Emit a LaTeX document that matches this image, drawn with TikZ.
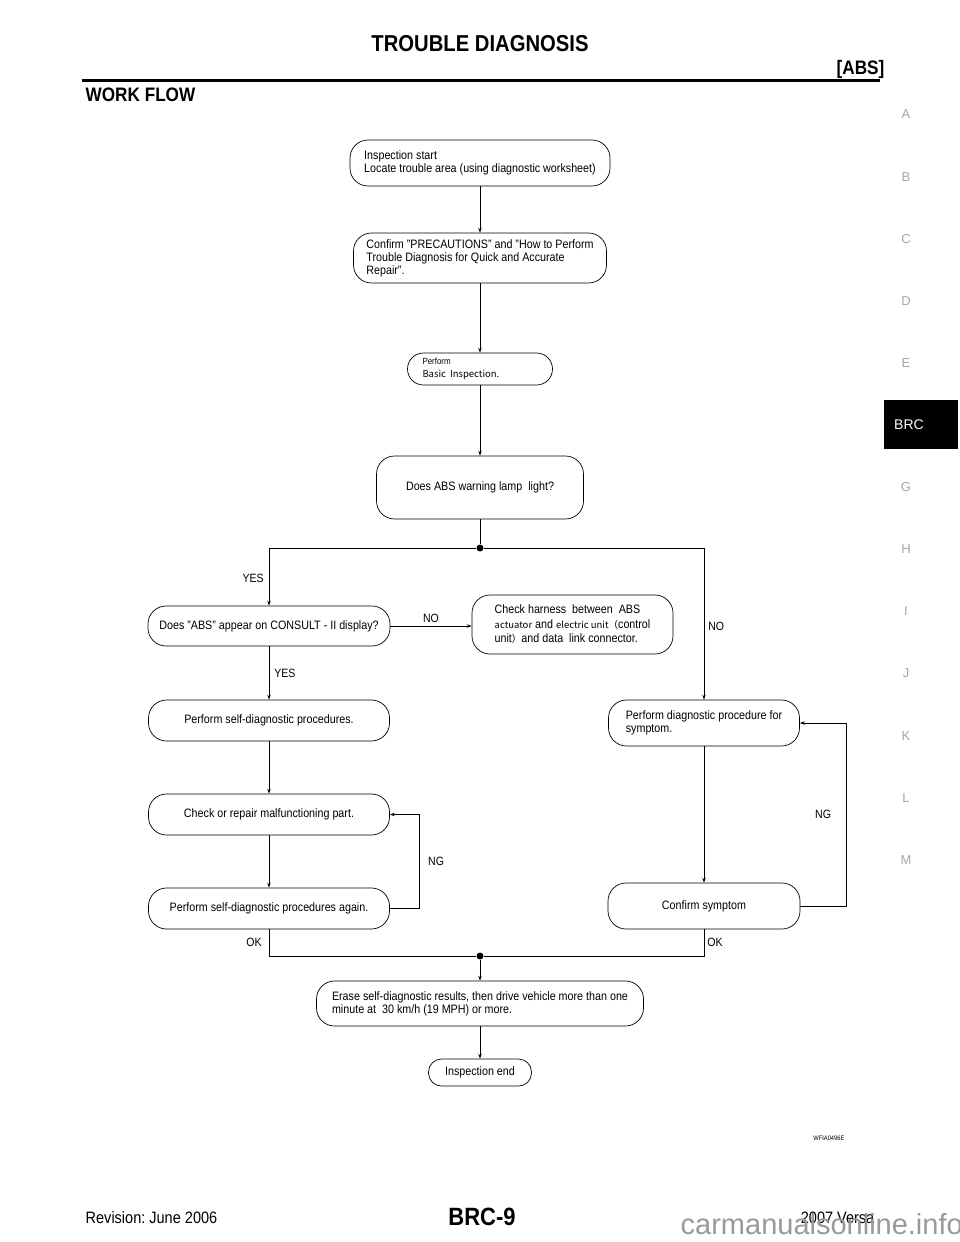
\documentclass[tikz,border=0pt]{standalone}
\usepackage{fontspec}
\setmainfont{Liberation Sans}[FakeStretch=0.88]
\newfontfamily\plainsans{Liberation Sans}
\newfontfamily\cjk{Noto Sans CJK JP}
\usetikzlibrary{arrows.meta}
\newcommand\jp[1]{{\cjk\fontsize{9.5}{14.5}\selectfont #1}}
\newcommand\dq{\symbol{34}}
\frenchspacing

\begin{document}
\begin{tikzpicture}[x=1pt,y=-1pt,line width=0.7pt,>={Stealth[length=5pt,width=3.5pt]},
  box/.style={draw,rounded corners=18pt,inner sep=0pt,align=left,font=\fontsize{12.2}{13}\selectfont},
  lbl/.style={inner sep=0pt,font=\fontsize{12}{13}\selectfont},
  tab/.style={text=black!35,font=\plainsans\fontsize{13}{15}\selectfont},
  dot/.style={circle,fill,inner sep=0pt,minimum size=7pt}]
\useasboundingbox (0,0) rectangle (960,1242);

\node[anchor=base,font=\bfseries\fontsize{23}{26}\selectfont]		(title)	at (480,51)	{TROUBLE DIAGNOSIS};
\node[anchor=base east,font=\bfseries\fontsize{19.5}{22}\selectfont]	(sect)	at (888,74)	{[ABS]};
\draw[line width=3pt] (82,80) -- (880,80);
\node[anchor=base west,font=\bfseries\fontsize{19.5}{22}\selectfont]	(work)	at (82,101)	{WORK FLOW};

\foreach \l/\y in {A/114,B/177,C/239,D/301,E/363,G/487,H/549,I/611,J/673,K/736,L/798,M/860}
  \node[tab] (tab_\l) at (906,\y) {\l};
\fill (884,400) rectangle (958,449);
\node[tab,text=white,font=\plainsans\fontsize{14}{16}\selectfont] (tab_BRC) at (909,425) {BRC};

\node[box,minimum width=260pt,minimum height=46pt]	(insp_start)	at (480,163)	{Inspection start\\Locate trouble area (using diagnostic worksheet)};
\node[box,minimum width=253pt,minimum height=50pt]	(precaution)	at (480,258)	{Confirm \dq PRECAUTIONS\dq{} and \dq How to Perform\\Trouble Diagnosis for Quick and Accurate\\Repair\dq.};
\node[box,rounded corners=16pt,minimum width=145pt,minimum height=32pt,text width=115pt]	(basic_insp)	at (480,369)	{{\fontsize{9}{13}\selectfont Perform}\\{\cjk\fontsize{9.5}{13}\selectfont Basic Inspection.}};
\node[box,minimum width=207pt,minimum height=63pt]	(lamp)		at (480,487.5)	{Does ABS warning lamp~ light?};
\node[dot]						(j_1)		at (480,548)	{};
\node[box,minimum width=242pt,minimum height=40pt]	(consult)	at (269,626)	{Does \dq ABS\dq{} appear on CONSULT - II display?};
\node[box,minimum width=201pt,minimum height=59pt,font=\fontsize{12.2}{14.5}\selectfont]	(harness)	at (572.5,624.5)	{Check harness~ between~ ABS\\\jp{actuator} and \jp{electric unit（}control\\unit\jp{）}and data~ link connector.};
\node[box,minimum width=241pt,minimum height=41pt]	(self_diag)	at (269,720.5)	{Perform self-diagnostic procedures.};
\node[box,minimum width=191pt,minimum height=46pt]	(diag_sym)	at (704,723)	{Perform diagnostic procedure for\\symptom.};
\node[box,minimum width=241pt,minimum height=41pt]	(repair)	at (269,814.5)	{Check or repair malfunctioning part.};
\node[box,minimum width=241pt,minimum height=41pt]	(self_again)	at (269,908.5)	{Perform self-diagnostic procedures again.};
\node[box,minimum width=192pt,minimum height=46pt]	(conf_sym)	at (704,906)	{Confirm symptom};
\node[dot]						(j_2)		at (480,956)	{};
\node[box,minimum width=327pt,minimum height=45pt]	(erase)		at (480,1003.5)	{Erase self-diagnostic results, then drive vehicle more than one\\minute at~ 30 km/h (19 MPH) or more.};
\node[box,rounded corners=13pt,minimum width=103pt,minimum height=27pt]	(insp_end)	at (480,1072.5)	{Inspection end};

\path[->]	(insp_start)	edge	(precaution)
		(precaution)	edge	(basic_insp)
		(basic_insp)	edge	(lamp)
		(consult)	edge	node[lbl,anchor=west,xshift=5pt] {YES} (self_diag)
		(self_diag)	edge	(repair)
		(repair)	edge	(self_again)
		(diag_sym)	edge	(conf_sym)
		(j_2)		edge	(erase)
		(erase)		edge	(insp_end);
\draw (lamp) -- (j_1);
\draw[->] (j_1) -| node[lbl,pos=0.76,anchor=east,xshift=-5pt] {YES} (consult);
\draw[->] (j_1) -| node[lbl,pos=0.757,anchor=west,xshift=4pt] {NO} (diag_sym);
\draw[->] (consult.east) -- node[lbl,above=3pt] {NO} (consult.east -| harness.west);
\draw[->] (self_again.east) -- ++(29,0) |- node[lbl,pos=0.25,anchor=west,xshift=9pt] {NG} (repair.east);
\draw[->] (conf_sym.east) -- ++(46,0) |- node[lbl,pos=0.25,anchor=east,xshift=-15pt] {NG} (diag_sym.east);
\draw (self_again) |- node[lbl,pos=0.25,anchor=east,xshift=-7pt] {OK} (j_2);
\draw (conf_sym) |- node[lbl,pos=0.25,anchor=west,xshift=3pt] {OK} (j_2);

\node[anchor=east,font=\fontsize{6.5}{7}\selectfont]			(fig_id)	at (848,1138)	{WFIA0496E};
\node[anchor=base west,font=\fontsize{16.5}{19}\selectfont]		(rev)		at (82,1223)	{Revision: June 2006};
\node[anchor=base,font=\bfseries\fontsize{25}{28}\selectfont]		(page)		at (482,1225)	{BRC-9};
\node[anchor=base east,font=\fontsize{16.5}{19}\selectfont]		(model)		at (878,1223)	{2007 Versa};
\node[anchor=base west,text=black!40,font=\plainsans\fontsize{29}{34}\selectfont]	(wm)	at (677,1234)	{carmanualsonline.info};
\end{tikzpicture}
\end{document}
